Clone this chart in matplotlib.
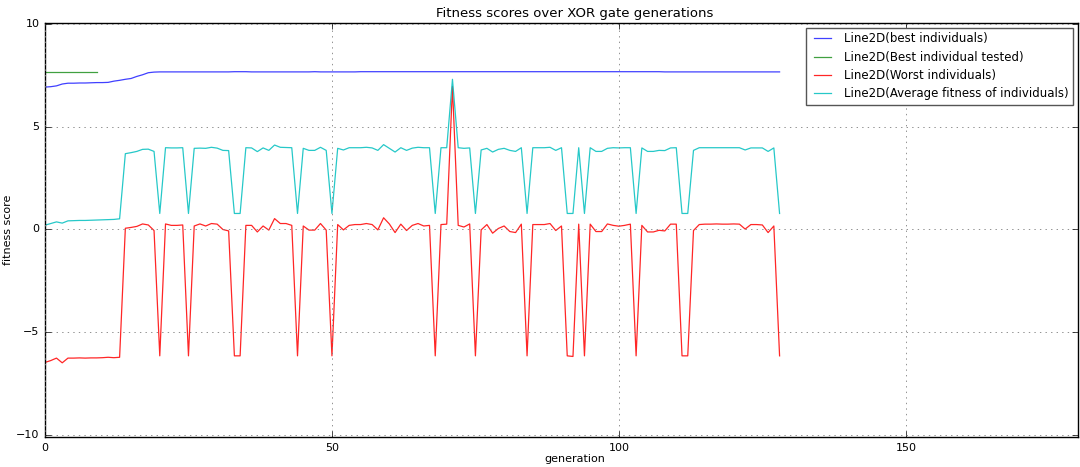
import matplotlib
matplotlib.use("Agg")
import matplotlib.pyplot as plt

# Fitness per generation of the XOR gate run
generations = list(range(129))

best_individuals = [
    6.93, 6.95, 6.99, 7.08, 7.12, 7.12, 7.13, 7.13, 7.14, 7.15,
    7.15, 7.16, 7.22, 7.26, 7.31, 7.35, 7.45, 7.53, 7.63, 7.66,
    7.67, 7.67, 7.67, 7.67, 7.67, 7.67, 7.67, 7.67, 7.67, 7.67,
    7.67, 7.67, 7.67, 7.68, 7.68, 7.68, 7.67, 7.67, 7.67, 7.67,
    7.67, 7.67, 7.67, 7.67, 7.67, 7.67, 7.67, 7.68, 7.67, 7.67,
    7.67, 7.67, 7.67, 7.67, 7.67, 7.68, 7.68, 7.68, 7.68, 7.68,
    7.68, 7.68, 7.68, 7.68, 7.68, 7.68, 7.68, 7.68, 7.68, 7.68,
    7.68, 7.68, 7.68, 7.68, 7.68, 7.68, 7.68, 7.68, 7.68, 7.68,
    7.68, 7.68, 7.68, 7.68, 7.68, 7.68, 7.68, 7.68, 7.68, 7.68,
    7.68, 7.68, 7.68, 7.68, 7.68, 7.68, 7.68, 7.68, 7.68, 7.68,
    7.68, 7.68, 7.68, 7.68, 7.68, 7.68, 7.68, 7.68, 7.67, 7.67,
    7.67, 7.67, 7.67, 7.67, 7.67, 7.67, 7.67, 7.67, 7.67, 7.67,
    7.67, 7.67, 7.67, 7.67, 7.67, 7.67, 7.67, 7.67, 7.67,
]

best_tested = [7.67] * 10

worst_individuals = [
    -6.47, -6.38, -6.26, -6.49, -6.26, -6.26, -6.25, -6.26, -6.25, -6.25,
    -6.24, -6.22, -6.24, -6.22, 0.06, 0.10, 0.15, 0.27, 0.22, -0.05,
    -6.15, 0.27, 0.20, 0.20, 0.22, -6.15, 0.17, 0.27, 0.17, 0.29,
    0.26, 0.00, -0.07, -6.15, -6.15, 0.20, 0.20, -0.12, 0.17, -0.03,
    0.53, 0.29, 0.29, 0.20, -6.15, 0.17, -0.03, -0.03, 0.29, -0.03,
    -6.15, 0.24, -0.02, 0.20, 0.24, 0.24, 0.29, 0.24, -0.02, 0.57,
    0.27, -0.15, 0.26, -0.05, 0.20, 0.29, 0.17, 0.20, -6.15, 0.24,
    0.26, 6.96, 0.20, 0.12, 0.27, -6.15, -0.02, 0.24, -0.18, 0.05,
    0.17, -0.10, -0.15, 0.26, -6.15, 0.24, 0.24, 0.24, 0.29, -0.05,
    0.17, -6.15, -6.18, 0.26, -6.15, 0.26, -0.10, -0.10, 0.27, 0.20,
    0.16, 0.20, 0.26, -6.15, 0.20, -0.12, -0.12, -0.04, -0.07, 0.26,
    0.26, -6.15, -6.15, -0.05, 0.24, 0.26, 0.26, 0.27, 0.26, 0.26,
    0.27, 0.26, 0.02, 0.24, 0.24, 0.22, -0.15, 0.17, -6.15,
]

average_fitness = [
    0.21, 0.29, 0.37, 0.31, 0.42, 0.43, 0.44, 0.44, 0.45, 0.46,
    0.47, 0.48, 0.49, 0.52, 3.69, 3.74, 3.80, 3.90, 3.91, 3.80,
    0.78, 3.98, 3.97, 3.97, 3.98, 0.78, 3.95, 3.96, 3.95, 4.00,
    3.96, 3.85, 3.84, 0.78, 0.78, 3.98, 3.97, 3.79, 3.97, 3.85,
    4.11, 4.00, 3.99, 3.98, 0.78, 3.95, 3.85, 3.85, 4.00, 3.85,
    0.78, 3.95, 3.87, 3.98, 3.98, 3.98, 4.00, 3.97, 3.85, 4.13,
    3.95, 3.77, 3.98, 3.85, 3.96, 4.00, 3.98, 3.98, 0.78, 3.98,
    3.98, 7.31, 3.98, 3.95, 3.97, 0.78, 3.87, 3.95, 3.77, 3.90,
    3.95, 3.85, 3.80, 3.98, 0.78, 3.98, 3.98, 3.98, 4.00, 3.85,
    3.98, 0.78, 0.78, 3.98, 0.78, 3.98, 3.80, 3.80, 3.95, 3.98,
    3.97, 3.98, 3.98, 0.78, 3.97, 3.80, 3.80, 3.85, 3.84, 3.97,
    3.98, 0.78, 0.78, 3.85, 3.98, 3.98, 3.98, 3.98, 3.98, 3.98,
    3.98, 3.98, 3.87, 3.97, 3.97, 3.97, 3.80, 3.97, 0.78,
]

plt.style.use("classic")

fig = plt.figure(figsize=(10.8, 4.67), dpi=100, facecolor="white")
ax = fig.add_axes([45 / 1080, 30 / 467, 1033 / 1080, 414 / 467])

l1, = ax.plot(generations, best_individuals, color="b", lw=0.9, alpha=0.75)
l2, = ax.plot(generations[:len(best_tested)], best_tested, color="g", lw=0.9, alpha=0.75)
l3, = ax.plot(generations, worst_individuals, color="r", lw=0.9, alpha=0.85)
l4, = ax.plot(generations, average_fitness, color="c", lw=0.9, alpha=0.85)

ax.set_xlim(0, 180)
ax.set_ylim(-10.1, 10.05)
ax.set_xticks([0, 50, 100, 150])
ax.set_yticks([-10, -5, 0, 5, 10])
ax.tick_params(labelsize=8)
ax.grid(True, color="gray", linestyle=":", linewidth=0.6)

# title and x label sit a little right of the axes centre
ax.set_title("Fitness scores over XOR gate generations", fontsize=9.5,
             x=(575 - 45) / 1033, pad=4)
ax.set_xlabel("generation", fontsize=8)
ax.xaxis.set_label_coords((575 - 45) / 1033, -0.04)
ax.set_ylabel("fitness score", fontsize=8)
ax.yaxis.set_label_coords(-0.031, 0.5)

leg = ax.legend(
    [l1, l2, l3, l4],
    [
        "Line2D(best individuals)",
        "Line2D(Best individual tested)",
        "Line2D(Worst individuals)",
        "Line2D(Average fitness of individuals)",
    ],
    loc="upper right",
    fontsize=8.5,
    handlelength=2,
    borderaxespad=0.4,
    labelspacing=0.45,
)
leg.get_frame().set_edgecolor("#555555")

fig.savefig("out.png", dpi=100, facecolor="white")
